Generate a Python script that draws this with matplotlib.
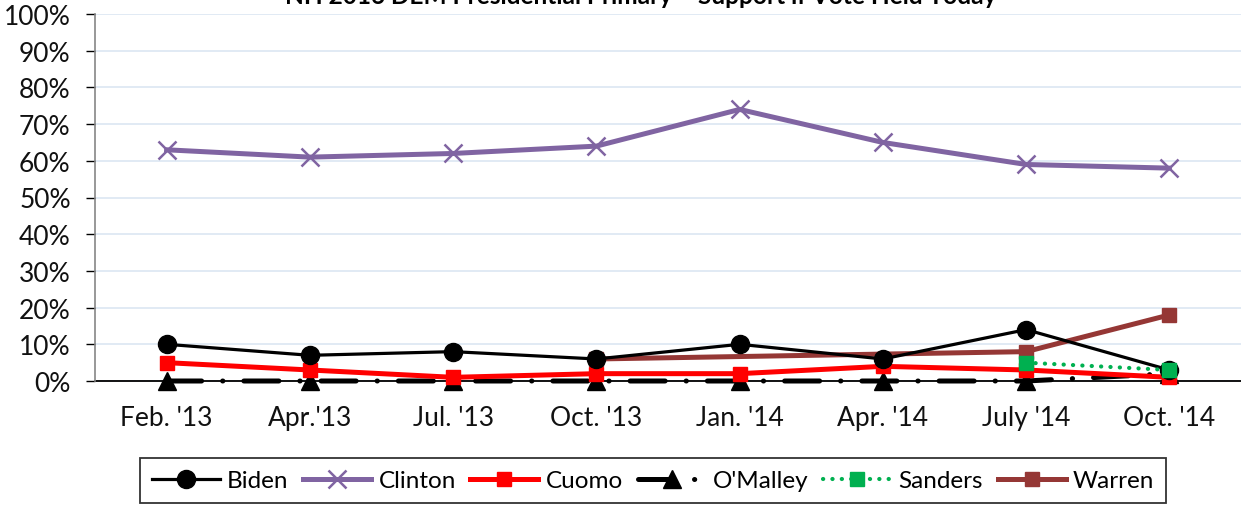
import numpy as np
import matplotlib
matplotlib.use("Agg")
import matplotlib.pyplot as plt
from matplotlib.ticker import PercentFormatter

plt.rcParams['font.family'] = ['Lato', 'DejaVu Sans']

# Survey waves
waves = ["Feb. '13", "Apr.'13", "Jul. '13", "Oct. '13", "Jan. '14", "Apr. '14", "July '14", "Oct. '14"]

# Support (%) for each candidate; NaN where the name was not polled
biden = [10, 7, 8, 6, 10, 6, 14, 3]
clinton = [63, 61, 62, 64, 74, 65, 59, 58]
cuomo = [5, 3, 1, 2, 2, 4, 3, 1]
omalley = [0, 0, 0, 0, 0, 0, 0, 2]
sanders = [np.nan, np.nan, np.nan, np.nan, np.nan, np.nan, 5, 3]
warren = [np.nan, np.nan, np.nan, 6, np.nan, np.nan, 8, 18]

fig = plt.figure(figsize=(12.41, 5.06), dpi=100)
ax = fig.add_axes([95 / 1241, 1 - 382 / 506, 1 - 95 / 1241, (382 - 15) / 506])

x = np.arange(len(waves))


def series(vals):
    v = np.asarray(vals, dtype=float)
    m = ~np.isnan(v)
    return x[m], v[m]


xs, ys = series(biden)
ax.plot(xs, ys, color='black', lw=2.3, marker='o', ms=13, zorder=6, clip_on=False, label='Biden')

xs, ys = series(clinton)
ax.plot(xs, ys, color='#8064A2', lw=3.6, marker='x', ms=13, mew=1.8, zorder=4, clip_on=False,
        label='Clinton')

xs, ys = series(cuomo)
ax.plot(xs, ys, color='#FF0000', lw=3.6, marker='s', ms=10, zorder=5, clip_on=False, label='Cuomo')

xs, ys = series(omalley)
ax.plot(xs, ys, color='black', lw=3.6, marker='^', ms=13, zorder=3, clip_on=False,
        linestyle=(0, (7.0, 4.2, 0.05, 4.2)), dash_capstyle='round', label="O'Malley")

xs, ys = series(sanders)
ax.plot(xs, ys, color='#00B050', lw=3.0, marker='s', ms=10, zorder=7, clip_on=False,
        linestyle=(0, (0.05, 2.2)), dash_capstyle='round', label='Sanders')

xs, ys = series(warren)
ax.plot(xs, ys, color='#953735', lw=3.6, marker='s', ms=10, zorder=5, clip_on=False, label='Warren')

ax.set_xlim(-0.5, len(waves) - 0.5)
ax.set_ylim(0, 100)
ax.set_yticks(np.arange(0, 101, 10))
ax.yaxis.set_major_formatter(PercentFormatter(decimals=0))
ax.set_xticks(x)
ax.set_xticklabels(waves)

ax.grid(axis='y', color='#DCE6F2', lw=1.2)
ax.set_axisbelow(True)
for side in ('top', 'right'):
    ax.spines[side].set_visible(False)
ax.spines['left'].set_color('#868686')
ax.spines['left'].set_linewidth(1.2)
ax.spines['bottom'].set_color('black')
ax.spines['bottom'].set_linewidth(1.3)
ax.spines['bottom'].set_zorder(2)

ax.tick_params(axis='y', length=6.5, width=1.0, color='black', pad=11, labelsize=19)
ax.tick_params(axis='x', length=0, pad=17, labelsize=19)
for lbl in ax.get_xticklabels() + ax.get_yticklabels():
    lbl.set_color('#111111')

fig.text(641 / 1241, 1 - 4 / 506, "NH 2016 DEM Presidential Primary \u2013 Support if Vote Held Today",
         ha='center', va='baseline', fontsize=17.6, fontweight='bold')

leg = fig.legend(loc='upper center', bbox_to_anchor=(653 / 1241, 1 - 459 / 506), ncol=6,
                 fontsize=17.5, frameon=True, fancybox=False, edgecolor='black',
                 handlelength=2.8, handletextpad=0.3, columnspacing=0.6,
                 borderpad=0.5, borderaxespad=0)
leg.get_frame().set_linewidth(1.3)

fig.savefig('out.png', dpi=100)
